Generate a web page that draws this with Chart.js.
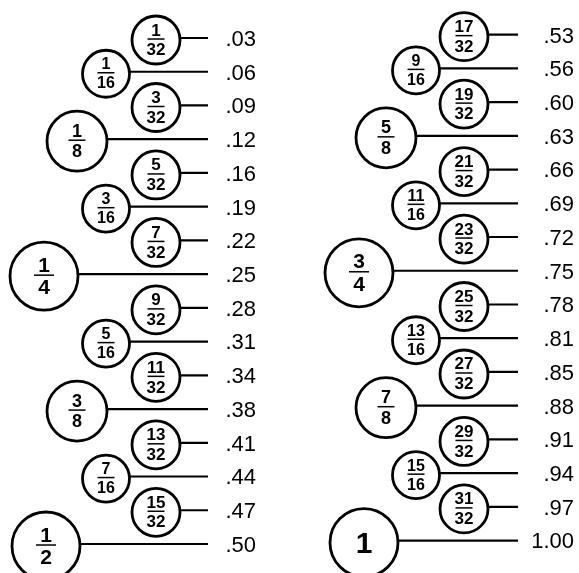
<!DOCTYPE html>
<html>
<head>
<meta charset="utf-8">
<script src="https://cdn.jsdelivr.net/npm/chart.js@4.4.1/dist/chart.umd.min.js"></script>
<style>
  html, body { margin: 0; padding: 0; background: #fff; }
  #chart { display: block; }
</style>
</head>
<body>
<canvas id="chart" width="579" height="573"></canvas>
<script>
const numerators = [1, 1, 3, 1, 5, 3, 7, 1, 9, 5, 11, 3, 13, 7, 15, 1,
  17, 9, 19, 5, 21, 11, 23, 3, 25, 13, 27, 7, 29, 15, 31, 1];
const denominators = [32, 16, 32, 8, 32, 16, 32, 4, 32, 16, 32, 8, 32, 16, 32, 2,
  32, 16, 32, 8, 32, 16, 32, 4, 32, 16, 32, 8, 32, 16, 32, 1];
const decimals = ['.03', '.06', '.09', '.12', '.16', '.19', '.22', '.25',
  '.28', '.31', '.34', '.38', '.41', '.44', '.47', '.50',
  '.53', '.56', '.60', '.63', '.66', '.69', '.72', '.75',
  '.78', '.81', '.85', '.88', '.91', '.94', '.97', '1.00'];

// layout (x axis runs 0..579, y axis is the row number)
const rowsPerColumn = 16;
const circleX = [
  { 32: 156, 16: 106, 8: 77, 4: 44, 2: 46 },
  { 32: 464, 16: 416, 8: 386, 4: 359, 1: 364 },
];
const stemEnd = [208, 518];
const labelRight = [256, 574];
const columnShift = [0, -0.1];
const circleDrop = 0.06;
const radius = { 32: 24, 16: 23.5, 8: 30, 4: 34, 2: 34, 1: 34 };
const fractionFont = { 32: 17, 16: 16, 8: 18, 4: 21, 2: 21, 1: 30 };
const barWidth = { 32: 17, 16: 17, 8: 17, 4: 20, 2: 20 };

function columnOf(i) {
  return i < rowsPerColumn ? 0 : 1;
}

function rowOf(i) {
  return (i % rowsPerColumn) + 1 + columnShift[columnOf(i)];
}

const circles = {
  type: 'scatter',
  data: numerators.map((_n, i) => ({
    x: circleX[columnOf(i)][denominators[i]],
    y: rowOf(i) + circleDrop,
  })),
  pointRadius: (ctx) => radius[denominators[ctx.dataIndex]],
  pointBackgroundColor: '#fff',
  pointBorderColor: '#000',
  pointBorderWidth: 2.8,
  order: 1,
};

const stems = numerators.map((_n, i) => ({
  type: 'scatter',
  showLine: true,
  data: [
    { x: circleX[columnOf(i)][denominators[i]], y: rowOf(i) },
    { x: stemEnd[columnOf(i)], y: rowOf(i) },
  ],
  borderColor: '#000',
  borderWidth: 2.2,
  pointRadius: 0,
  order: 2,
}));

function drawFraction(ctx, x, y, num, den) {
  const size = fractionFont[den];
  const cap = size * 0.716;
  ctx.font = `bold ${size}px "Liberation Sans", Arial, sans-serif`;
  ctx.textAlign = 'center';
  ctx.textBaseline = 'alphabetic';
  ctx.fillStyle = '#000';

  if (den === 1) {
    ctx.fillText(String(num), x, y + cap / 2);
    return;
  }

  const bar = y - 1;
  ctx.fillText(String(num), x, bar - 3.5);
  ctx.fillText(String(den), x, bar + 4 + cap);

  ctx.strokeStyle = '#000';
  ctx.lineWidth = 1.5;
  ctx.beginPath();
  ctx.moveTo(x - barWidth[den] / 2, bar);
  ctx.lineTo(x + barWidth[den] / 2, bar);
  ctx.stroke();
}

const textPlugin = {
  id: 'fractionText',
  afterDatasetsDraw(chart) {
    const ctx = chart.ctx;
    const meta = chart.getDatasetMeta(0);
    const xScale = chart.scales.x;
    const yScale = chart.scales.y;

    ctx.save();
    meta.data.forEach((point, i) => {
      drawFraction(ctx, point.x, point.y, numerators[i], denominators[i]);
    });

    ctx.font = '22px "Liberation Sans", Arial, sans-serif';
    ctx.textAlign = 'right';
    ctx.textBaseline = 'alphabetic';
    ctx.fillStyle = '#000';
    decimals.forEach((label, i) => {
      const x = xScale.getPixelForValue(labelRight[columnOf(i)]);
      const y = yScale.getPixelForValue(rowOf(i));
      ctx.fillText(label, x, y + 22 * 0.358);
    });
    ctx.restore();
  },
};

new Chart(document.getElementById('chart'), {
  type: 'scatter',
  data: { datasets: [circles, ...stems] },
  options: {
    responsive: false,
    animation: false,
    devicePixelRatio: 1,
    events: [],
    layout: { padding: 0, autoPadding: false },
    plugins: { legend: { display: false }, tooltip: { enabled: false } },
    scales: {
      x: { type: 'linear', display: false, min: 0, max: 579 },
      y: { type: 'linear', display: false, reverse: true, min: -0.1265, max: 16.86 },
    },
  },
  plugins: [textPlugin],
});
</script>
</body>
</html>
